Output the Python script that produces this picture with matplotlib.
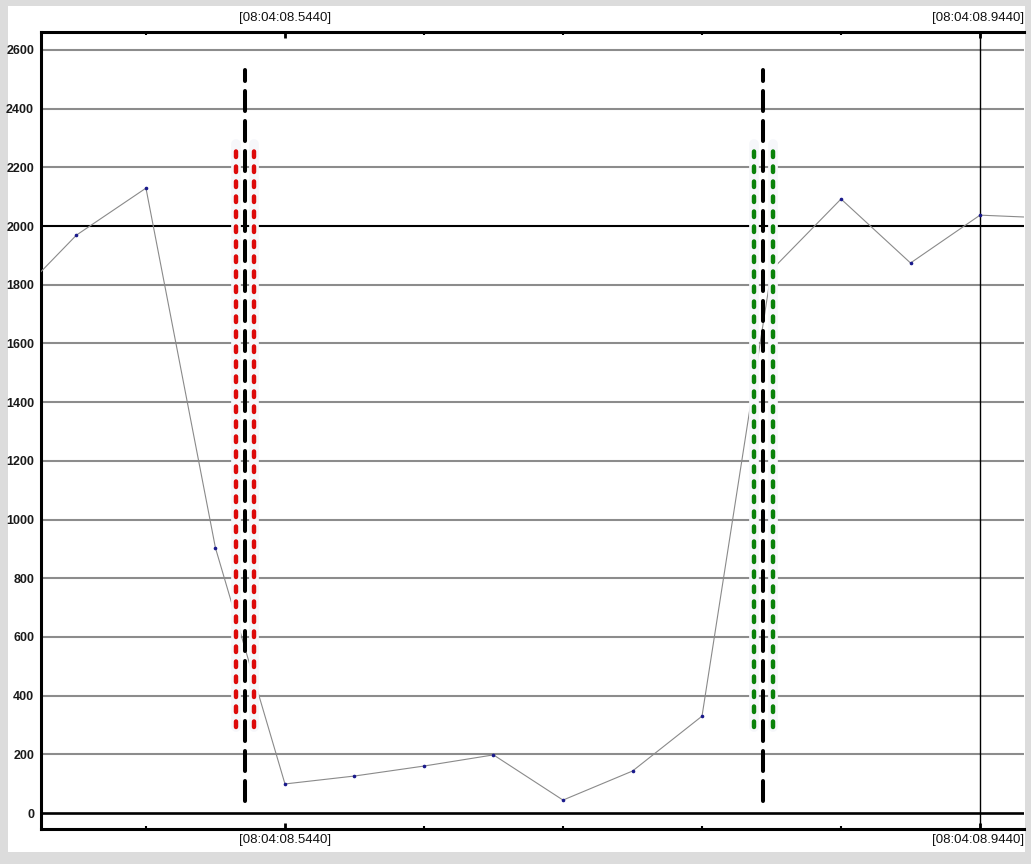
import matplotlib.pyplot as plt
from matplotlib.patches import Rectangle

# time in ms after 08:04:08.000
t_ms = [384, 424, 464, 504, 544, 584, 624, 664, 704, 744, 784, 824, 864, 904, 944, 984]
values = [1725, 1969, 2129, 903, 99, 126, 160, 198, 44, 143, 330, 1850, 2092, 1874, 2037, 2027]

marker_black = [521.0, 819.1]
marker_red = [515.8, 526.2]
marker_green = [813.9, 824.9]
black_span = (42, 2532)
color_span = (293, 2280)

major_ticks = [544, 944]
minor_ticks = [464, 624, 704, 784, 864]
major_labels = ["[08:04:08.5440]", "[08:04:08.9440]"]
y_ticks = list(range(0, 2601, 200))

plt.rcParams['lines.scale_dashes'] = False
plt.rcParams['font.family'] = ['Liberation Sans', 'DejaVu Sans']

fig = plt.figure(figsize=(10.31, 8.64), dpi=100, facecolor='#dcdcdc')
panel = Rectangle((8 / 1031, 12 / 864), 1017 / 1031, 846 / 864,
                  transform=fig.transFigure, facecolor='white',
                  edgecolor='none', zorder=-10)
fig.add_artist(panel)

ax = fig.add_axes([41 / 1031, 1 - 829 / 864, 983 / 1031, 797 / 864])
ax.set_zorder(5)
ax.set_facecolor('white')
ax.set_xlim(403.6, 969.3)
ax.set_ylim(-54.5, 2661)

# grid lines
for y in y_ticks:
    if y == 0:
        ax.axhline(y, color='black', lw=1.9, zorder=2)
    elif y == 2000:
        ax.axhline(y, color='black', lw=1.5, zorder=2)
    else:
        ax.axhline(y, color='#8c8c8c', lw=1.5, zorder=1)
ax.axvline(major_ticks[1], color='black', lw=1.0, zorder=2)

# data line
ax.plot(t_ms, values, color='#8a8a8a', lw=0.8, zorder=3)
ax.plot(t_ms, values, ls='none', marker='o', ms=1.6, color='#1a1a8c', zorder=4)

# cursors
for x in marker_red + marker_green:
    ax.plot([x, x], color_span, color='#f6f7fa', lw=7, zorder=4,
            solid_capstyle='round')
for x in marker_red:
    ax.plot([x, x], color_span, color='#dd0a0a', lw=3.2, ls=(0, (4.0, 6.8)),
            dash_capstyle='round', zorder=5)
for x in marker_green:
    ax.plot([x, x], color_span, color='#0a820a', lw=3.2, ls=(0, (4.0, 6.8)),
            dash_capstyle='round', zorder=5)
for x in marker_black:
    ax.plot([x, x], black_span, color='black', lw=2.9, ls=(0, (14.4, 7.2)),
            dash_capstyle='round', zorder=6)

# axes styling
for side in ['top', 'left', 'bottom']:
    ax.spines[side].set_linewidth(2.2)
    ax.spines[side].set_color('black')
ax.spines['right'].set_visible(False)

ax.set_yticks(y_ticks)
ax.set_yticklabels([str(y) for y in y_ticks], fontsize=9, fontweight='bold',
                   color='#1a1a1a')
ax.tick_params(axis='y', length=0, pad=5)

ax.set_xticks(major_ticks)
ax.set_xticks(minor_ticks, minor=True)
ax.set_xticklabels([])
ax.tick_params(axis='x', which='major', direction='in', length=4, width=2,
               top=True, bottom=True)
ax.tick_params(axis='x', which='minor', direction='in', length=2, width=1.5,
               top=True, bottom=True)

# time labels
trans = ax.get_xaxis_transform()
ax.text(major_ticks[0], 1.0 + 14 / 797, major_labels[0], transform=trans,
        ha='center', va='center', fontsize=9.5, color='#111111')
ax.text(major_ticks[0], -11 / 797, major_labels[0], transform=trans,
        ha='center', va='center', fontsize=9.5, color='#111111')
ax.text(1.0, 1.0 + 14 / 797, major_labels[1], transform=ax.transAxes,
        ha='right', va='center', fontsize=9.5, color='#111111')
ax.text(1.0, -11 / 797, major_labels[1], transform=ax.transAxes,
        ha='right', va='center', fontsize=9.5, color='#111111')

fig.savefig('out.png', dpi=100, facecolor=fig.get_facecolor())
